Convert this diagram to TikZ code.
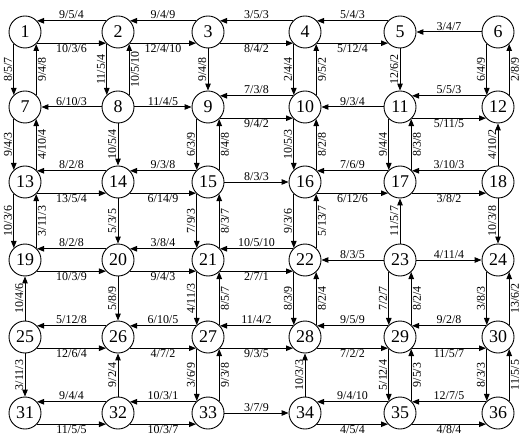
\documentclass[tikz,border=0pt]{standalone}
\usepackage{fontspec}
\setmainfont{Liberation Serif}
\usetikzlibrary{arrows.meta}

\begin{document}
\begin{tikzpicture}[
  x=1bp, y=-1bp,
  >={Triangle[length=7pt, width=5.5pt]},
  nd/.style={circle, draw, line width=0.9pt, minimum size=32bp, inner sep=0pt, font=\fontsize{18}{18}\selectfont},
  ln/.style={->, line width=1pt},
  lbl/.style={font=\fontsize{12}{12}\selectfont, inner sep=1.2pt},
  ab/.style={lbl, midway, above},
  bl/.style={lbl, midway, below},
  lf/.style={lbl, midway, rotate=90, anchor=south},
  rt/.style={lbl, midway, rotate=90, anchor=north},
]
\useasboundingbox (0,0) rectangle (521,441);

% ---- nodes: 6 x 6 grid ----
\foreach \y [count=\r from 0] in {32,107,182,260,337,413}{
  \foreach \x [count=\c from 1] in {25,118,208,305,400,498}{
    \pgfmathtruncatemacro\n{6*\r+\c}
    \node[nd] (n\n) at (\x,\y) {\n};
  }
}

% ============================================================
% HORIZONTAL PAIRS (top line points left, bottom line points right)
% ============================================================
\foreach \p/\q/\la/\lb/\lc/\ma/\mb/\mc in {
  1/2/9/5/4/10/3/6, 2/3/9/4/9/12/4/10, 3/4/3/5/3/8/4/2, 4/5/5/4/3/5/12/4,
  9/10/7/3/8/9/4/2, 11/12/5/5/3/5/11/5,
  13/14/8/2/8/13/5/4, 14/15/9/3/8/6/14/9, 16/17/7/6/9/6/12/6, 17/18/3/10/3/3/8/2,
  19/20/8/2/8/10/3/9, 20/21/3/8/4/9/4/3, 21/22/10/5/10/2/7/1,
  25/26/5/12/8/12/6/4, 26/27/6/10/5/4/7/2, 27/28/11/4/2/9/3/5,
  28/29/9/5/9/7/2/2, 29/30/9/2/8/11/5/7,
  31/32/9/4/4/11/5/5, 32/33/10/3/1/10/3/7, 34/35/9/4/10/4/5/4, 35/36/12/7/5/4/8/4}{
  \draw[ln] (n\q.137) -- node[ab] {\la/\lb/\lc} (n\p.43);
  \draw[ln] (n\p.-43) -- node[bl] {\ma/\mb/\mc} (n\q.-137);
}

% single horizontal links (from/to)
\foreach \p/\q/\la/\lb/\lc in {
  6/5/3/4/7, 8/7/6/10/3, 8/9/11/4/5, 11/10/9/3/4,
  15/16/8/3/3, 23/22/8/3/5, 23/24/4/11/4, 33/34/3/7/9}{
  \draw[ln] (n\p) -- node[ab] {\la/\lb/\lc} (n\q);
}

% ============================================================
% VERTICAL PAIRS (left line points down, right line points up)
% ============================================================
\foreach \p/\q/\la/\lb/\lc/\ma/\mb/\mc in {
  1/7/8/5/7/9/4/8, 2/8/11/5/4/10/5/10, 4/10/2/4/4/9/5/2, 6/12/6/4/9/2/8/9,
  7/13/9/4/3/4/10/4, 9/15/6/3/9/8/4/8, 10/16/10/5/3/8/2/8, 11/17/9/4/4/8/3/8,
  13/19/10/3/6/3/11/3, 15/21/7/9/3/8/3/7, 16/22/9/3/6/5/13/7,
  21/27/4/11/3/8/5/7, 22/28/8/3/9/8/2/4, 23/29/7/2/7/8/2/4, 24/30/3/8/3/13/6/2,
  27/33/3/6/9/9/3/8, 29/35/5/12/4/9/5/3, 30/36/8/3/3/11/5/5}{
  \draw[ln] (n\p.-133) -- node[lf] {\la/\lb/\lc} (n\q.133);
  \draw[ln] (n\q.47) -- node[rt] {\ma/\mb/\mc} (n\p.-47);
}

% single vertical links (from/to)
\foreach \p/\q/\la/\lb/\lc in {
  3/9/9/4/8, 5/11/12/6/2, 8/14/10/5/4, 18/12/4/10/2, 14/20/5/3/5,
  23/17/11/5/7, 18/24/10/3/8, 25/19/10/4/6, 20/26/5/8/9,
  25/31/3/11/3, 32/26/9/2/4, 34/28/10/3/3}{
  \draw[ln] (n\p) -- node[lf] {\la/\lb/\lc} (n\q);
}

\end{tikzpicture}
\end{document}
